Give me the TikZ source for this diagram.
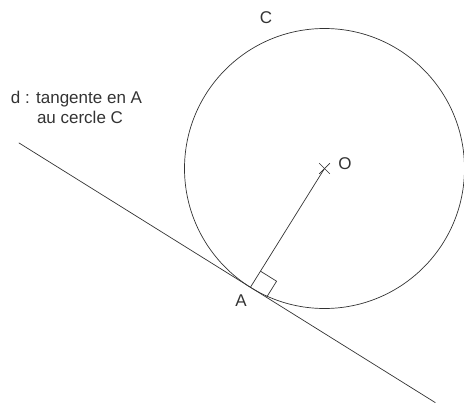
\documentclass[tikz,border=0pt]{standalone}
\usepackage{fontspec}
\setmainfont{Liberation Sans}
\usepackage{xcolor}
\usetikzlibrary{calc,positioning}

\begin{document}
\begin{tikzpicture}[
    x=1pt, y=-1pt,
    geo/.style={draw=black!80, line width=0.7pt},
    lbl/.style={text=black!80, font=\fontsize{17}{21}\selectfont, inner sep=0pt}
]
    \useasboundingbox (0,0) rectangle (464,405);

    % Circle C and its centre O
    \coordinate (O) at (324.5,168.5);
    \draw[geo] (O) circle (140);
    \foreach \a in {45,135} {
        \draw[geo] ($(O)+(\a:7.5)$) -- ($(O)+(\a+180:7.5)$);
    }

    % Point A and tangent d
    \coordinate (A) at ($(O)+(121.95:140)$);
    \coordinate (d1) at ($(A)+(211.95:273)$);
    \coordinate (d2) at ($(A)+(31.95:218)$);
    \draw[geo] (d1) -- (d2);
    \draw[geo] (O) -- (A);

    % Right angle mark
    \coordinate (r1) at ($(A)!19pt!(O)$);
    \coordinate (r2) at ($(A)!19pt!(d2)$);
    \draw[geo] (r1) -- ($(r1)+(r2)-(A)$) -- (r2);

    % Labels
    \node[lbl] (Clab) at (266,18) {C};
    \node[lbl] (Olab) at (345,163.5) {O};
    \node[lbl] (Alab) at (241,300.5) {A};
    \node[lbl, anchor=base] (dlab1) at (76.5,103) {d : tangente en A};
    \node[lbl, anchor=base] (dlab2) at (80,123) {au cercle C};
\end{tikzpicture}
\end{document}
